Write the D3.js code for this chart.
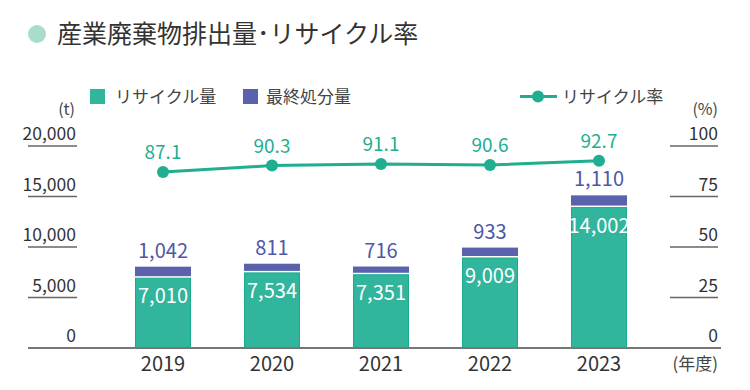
<!DOCTYPE html>
<html lang="ja">
<head>
<meta charset="utf-8">
<script src="https://cdn.jsdelivr.net/npm/d3@7"></script>
<style>
  body { margin: 0; background: #fff; }
  text { font-family: "Noto Sans CJK JP", "Noto Sans", sans-serif; }
</style>
</head>
<body>
<script>
// data
const years = ["2019", "2020", "2021", "2022", "2023"];
const recycled = [7010, 7534, 7351, 9009, 14002];
const disposed = [1042, 811, 716, 933, 1110];
const rate = [87.1, 90.3, 91.1, 90.6, 92.7];
const leftTicks = [0, 5000, 10000, 15000, 20000];
const rightTicks = [0, 25, 50, 75, 100];

const width = 750, height = 390;
const teal = "#31b59c", tealLine = "#1fae8f", purple = "#5a62ad", purpleText = "#4f57a6";

const svg = d3.select("body").append("svg")
  .attr("width", width)
  .attr("height", height);

const x = d3.scaleBand().domain(years).range([108.5, 653.5])
  .paddingInner(0.486).paddingOuter(0.243);
const yL = d3.scaleLinear().domain([0, 20000]).range([348, 146]);
const yR = d3.scaleLinear().domain([0, 100]).range([348, 146]);
const fmt = d3.format(",");

// title
svg.append("circle").attr("cx", 37).attr("cy", 34).attr("r", 9).attr("fill", "#a9dccb");
svg.append("text").attr("x", 57).attr("y", 43)
  .attr("font-size", 25).attr("fill", "#333")
  .text("産業廃棄物排出量･リサイクル率");

// legend
const lg = svg.append("g").attr("font-size", 17).attr("fill", "#444");
lg.append("rect").attr("x", 90).attr("y", 89).attr("width", 15).attr("height", 15).attr("fill", teal);
lg.append("text").attr("x", 115).attr("y", 103).text("リサイクル量");
lg.append("rect").attr("x", 243).attr("y", 89).attr("width", 15).attr("height", 15).attr("fill", purple);
lg.append("text").attr("x", 266).attr("y", 103).text("最終処分量");
lg.append("line").attr("x1", 520).attr("x2", 557).attr("y1", 96.5).attr("y2", 96.5)
  .attr("stroke", tealLine).attr("stroke-width", 3);
lg.append("circle").attr("cx", 538).attr("cy", 96.5).attr("r", 6).attr("fill", tealLine);
lg.append("text").attr("x", 562).attr("y", 103).text("リサイクル率");

// units
svg.append("text").attr("x", 75).attr("y", 115).attr("text-anchor", "end")
  .attr("font-size", 16).attr("fill", "#444").text("(t)");
svg.append("text").attr("x", 718).attr("y", 115).attr("text-anchor", "end")
  .attr("font-size", 16).attr("fill", "#444").text("(%)");

// left axis
const la = svg.append("g");
la.selectAll("line").data(leftTicks.filter(d => d > 0)).join("line")
  .attr("x1", 28).attr("x2", 77)
  .attr("y1", d => yL(d)).attr("y2", d => yL(d))
  .attr("stroke", "#666").attr("stroke-width", 1.5);
la.selectAll("text").data(leftTicks).join("text")
  .attr("x", 76).attr("y", d => yL(d) - 6)
  .attr("text-anchor", "end").attr("font-size", 17.5).attr("fill", "#333")
  .text(d => fmt(d));

// right axis
const ra = svg.append("g");
ra.selectAll("line").data(rightTicks.filter(d => d > 0)).join("line")
  .attr("x1", 670).attr("x2", 718)
  .attr("y1", d => yR(d)).attr("y2", d => yR(d))
  .attr("stroke", "#666").attr("stroke-width", 1.5);
ra.selectAll("text").data(rightTicks).join("text")
  .attr("x", 718).attr("y", d => yR(d) - 6)
  .attr("text-anchor", "end").attr("font-size", 17.5).attr("fill", "#333")
  .text(d => d);

// bars
const rows = years.map((y, i) => ({ year: y, rec: recycled[i], dis: disposed[i], rate: rate[i] }));
const bw = x.bandwidth();

svg.selectAll("rect.rec").data(rows).join("rect").attr("class", "rec")
  .attr("x", d => x(d.year) + 0.5).attr("width", bw - 1)
  .attr("y", d => yL(d.rec) + 1).attr("height", d => yL(0) - yL(d.rec) - 1)
  .attr("fill", teal).attr("stroke", "#19ab8c").attr("stroke-width", 1);

svg.selectAll("rect.dis").data(rows).join("rect").attr("class", "dis")
  .attr("x", d => x(d.year)).attr("width", bw)
  .attr("y", d => yL(d.rec + d.dis)).attr("height", d => yL(d.rec) - yL(d.rec + d.dis) - 1)
  .attr("fill", purple);

// baseline
svg.append("line").attr("x1", 28).attr("x2", 721).attr("y1", 348).attr("y2", 348)
  .attr("stroke", "#777").attr("stroke-width", 2);

// bar labels
svg.selectAll("text.dis").data(rows).join("text").attr("class", "dis")
  .attr("x", d => x(d.year) + bw / 2).attr("y", d => yL(d.rec + d.dis) - 9)
  .attr("text-anchor", "middle").attr("font-size", 20).attr("fill", purpleText)
  .text(d => fmt(d.dis));
svg.selectAll("text.rec").data(rows).join("text").attr("class", "rec")
  .attr("x", d => x(d.year) + bw / 2).attr("y", d => yL(d.rec) + 26)
  .attr("text-anchor", "middle").attr("font-size", 20).attr("fill", "#fff")
  .text(d => fmt(d.rec));

// rate line
const line = d3.line().x(d => x(d.year) + bw / 2).y(d => yR(d.rate));
svg.append("path").datum(rows).attr("d", line)
  .attr("fill", "none").attr("stroke", tealLine).attr("stroke-width", 3);
svg.selectAll("circle.pt").data(rows).join("circle").attr("class", "pt")
  .attr("cx", d => x(d.year) + bw / 2).attr("cy", d => yR(d.rate)).attr("r", 6)
  .attr("fill", tealLine);
svg.selectAll("text.rate").data(rows).join("text").attr("class", "rate")
  .attr("x", d => x(d.year) + bw / 2).attr("y", d => yR(d.rate) - 13)
  .attr("text-anchor", "middle").attr("font-size", 19).attr("fill", tealLine)
  .text(d => d.rate.toFixed(1));

// x axis labels
svg.selectAll("text.year").data(years).join("text").attr("class", "year")
  .attr("x", d => x(d) + bw / 2).attr("y", 371)
  .attr("text-anchor", "middle").attr("font-size", 20).attr("fill", "#333")
  .text(d => d);
svg.append("text").attr("x", 718).attr("y", 370).attr("text-anchor", "end")
  .attr("font-size", 17).attr("fill", "#444").text("(年度)");
</script>
</body>
</html>
